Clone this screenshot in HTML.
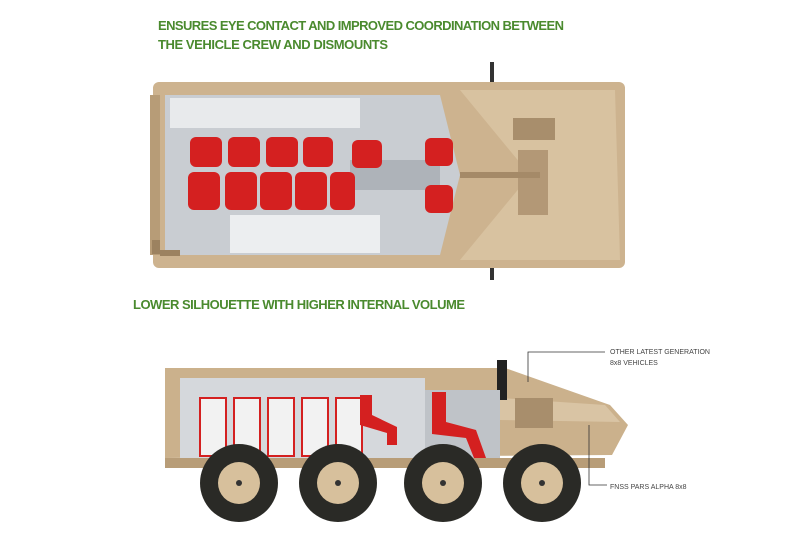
<!DOCTYPE html>
<html><head><style>
html,body{margin:0;padding:0;background:#fff;width:800px;height:536px;overflow:hidden}
.t{font-family:"Liberation Sans",sans-serif;font-weight:bold;fill:#4a8a2e;font-size:13px}
.s{font-family:"Liberation Sans",sans-serif;fill:#444;font-size:7px}
</style></head><body>
<svg width="800" height="536" viewBox="0 0 800 536" xmlns="http://www.w3.org/2000/svg">
<text class="t" x="158" y="30" textLength="406">ENSURES EYE CONTACT AND IMPROVED COORDINATION BETWEEN</text>
<text class="t" x="158" y="49" textLength="230">THE VEHICLE CREW AND DISMOUNTS</text>
<text class="t" x="133" y="309" textLength="332">LOWER SILHOUETTE WITH HIGHER INTERNAL VOLUME</text>

<!-- top view -->
<rect x="153" y="82" width="472" height="186" rx="6" fill="#cdb38f"/>
<rect x="150" y="95" width="10" height="160" fill="#b79c77"/>
<path d="M460 90 L615 90 L620 260 L460 260 L530 175 Z" fill="#d8c2a0"/>
<rect x="513" y="118" width="42" height="22" fill="#a88e6c"/>
<rect x="518" y="150" width="30" height="65" fill="#b39876"/>
<rect x="460" y="172" width="80" height="6" fill="#a58a68"/>
<rect x="490" y="62" width="4" height="20" fill="#333"/>
<rect x="490" y="268" width="4" height="12" fill="#333"/>
<path d="M165 95 L440 95 L460 175 L440 255 L165 255 Z" fill="#c9cdd2"/>
<rect x="170" y="98" width="190" height="30" fill="#e8eaec"/>
<rect x="230" y="215" width="150" height="38" fill="#eceef0"/>
<rect x="350" y="160" width="90" height="30" fill="#aeb3b9"/>
<g fill="#d42020">
<rect x="190" y="137" width="32" height="30" rx="6"/><rect x="228" y="137" width="32" height="30" rx="6"/><rect x="266" y="137" width="32" height="30" rx="6"/><rect x="303" y="137" width="30" height="30" rx="6"/>
<rect x="188" y="172" width="32" height="38" rx="6"/><rect x="225" y="172" width="32" height="38" rx="6"/><rect x="260" y="172" width="32" height="38" rx="6"/><rect x="295" y="172" width="32" height="38" rx="6"/><rect x="330" y="172" width="25" height="38" rx="6"/>
<rect x="352" y="140" width="30" height="28" rx="6"/><rect x="425" y="138" width="28" height="28" rx="6"/><rect x="425" y="185" width="28" height="28" rx="6"/>
</g>
<g fill="#9c8260"><rect x="152" y="240" width="8" height="14"/><rect x="160" y="250" width="20" height="6"/></g>

<!-- side view -->
<path d="M165 368 L505 368 L610 405 L628 425 L612 455 L165 458 Z" fill="#cbb18c"/>
<path d="M500 398 L605 405 L620 422 L500 420 Z" fill="#d9c4a4"/>
<rect x="515" y="398" width="38" height="30" fill="#a88e6c"/>
<rect x="497" y="360" width="10" height="40" fill="#222"/>
<rect x="180" y="378" width="245" height="83" fill="#d5d8dc"/>
<path d="M425 390 L500 390 L500 458 L425 458 Z" fill="#bfc3c8"/>
<g fill="#f2f2f2" stroke="#d42020" stroke-width="2">
<rect x="200" y="398" width="26" height="58"/><rect x="234" y="398" width="26" height="58"/><rect x="268" y="398" width="26" height="58"/><rect x="302" y="398" width="26" height="58"/><rect x="336" y="398" width="26" height="58"/>
</g>
<g fill="#d42020"><path d="M360 395 h12 v20 l25 12 v18 h-10 v-12 l-27 -8 Z"/><path d="M432 392 h14 v30 l30 8 l10 28 h-12 l-8 -20 l-34 -4 Z"/></g>
<rect x="165" y="458" width="440" height="10" fill="#b89d78"/>
<g fill="#2a2a26">
<circle cx="239" cy="483" r="39"/><circle cx="338" cy="483" r="39"/><circle cx="443" cy="483" r="39"/><circle cx="542" cy="483" r="39"/></g>
<g fill="#d7c09c">
<circle cx="239" cy="483" r="21"/><circle cx="338" cy="483" r="21"/><circle cx="443" cy="483" r="21"/><circle cx="542" cy="483" r="21"/></g>
<g fill="#333"><circle cx="239" cy="483" r="3"/><circle cx="338" cy="483" r="3"/><circle cx="443" cy="483" r="3"/><circle cx="542" cy="483" r="3"/></g>

<g stroke="#333" stroke-width="0.8" fill="none">
<path d="M528 382 V352 H605"/><path d="M589 425 V485 H607"/></g>
<text class="s" x="610" y="354">OTHER LATEST GENERATION</text>
<text class="s" x="610" y="365">8x8 VEHICLES</text>
<text class="s" x="610" y="489">FNSS PARS ALPHA 8x8</text>
</svg>
</body></html>
